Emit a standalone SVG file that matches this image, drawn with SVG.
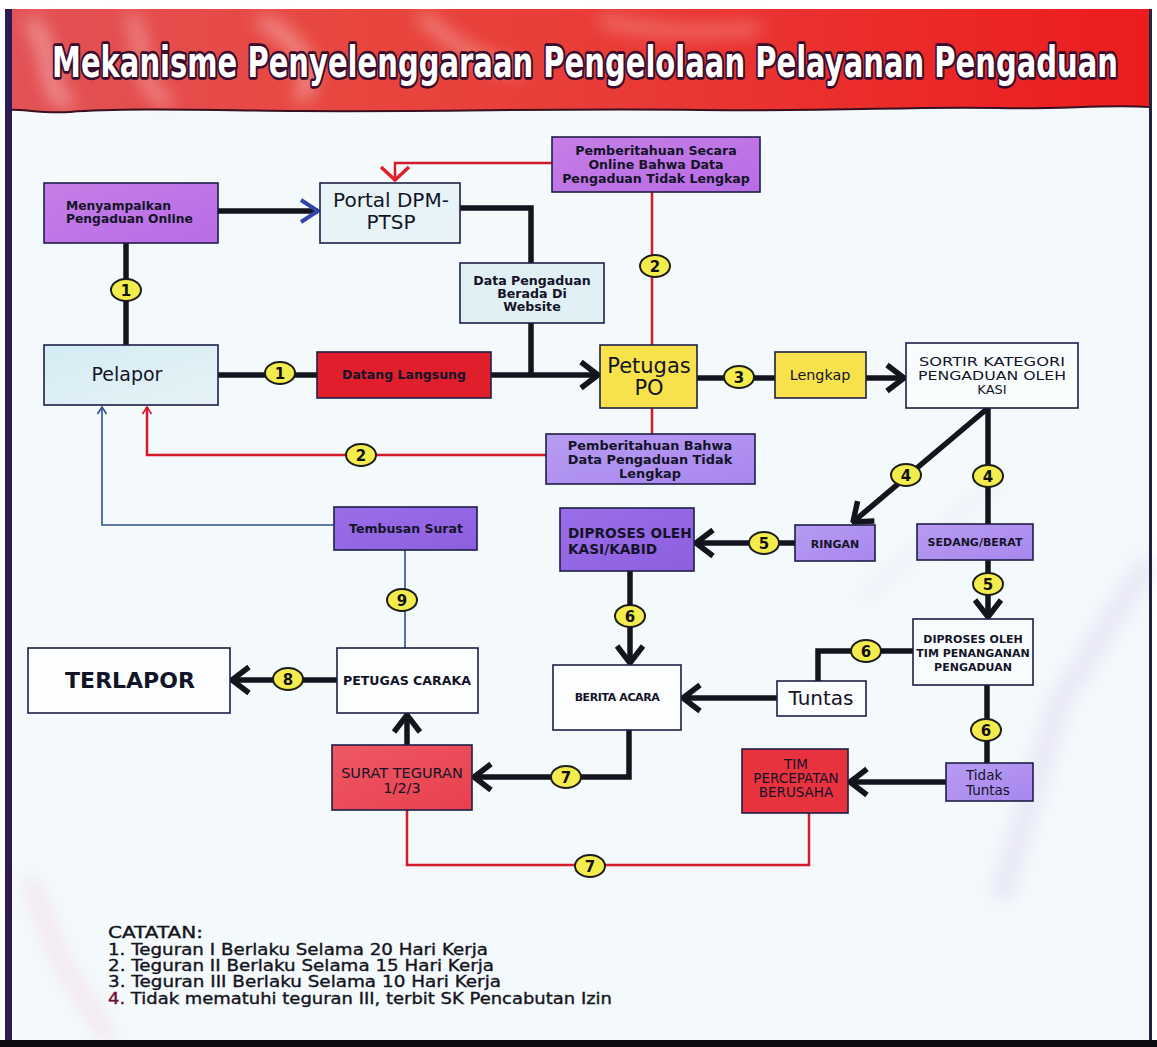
<svg xmlns="http://www.w3.org/2000/svg" width="1157" height="1047" viewBox="0 0 1157 1047">
  <style>
    .box { stroke: #1e1e48; stroke-width: 1.6; }
    .t { font-family: "DejaVu Sans", "Liberation Sans", sans-serif; fill: #141428; text-anchor: middle; }
    .b { font-weight: bold; }
    .l { text-anchor: start; }
    .k { fill: none; stroke: #14141e; stroke-width: 5.5; stroke-linejoin: miter; }
    .r { fill: none; stroke: #d31c2a; stroke-width: 2.5; }
    .bl { fill: none; stroke: #2f4f8f; stroke-width: 1.6; }
    .badge ellipse { fill: #f3ec4c; stroke: #1c1c1c; stroke-width: 2; }
    .badge text { font-family: "DejaVu Sans", "Liberation Sans", sans-serif; font-weight: bold; font-size: 15px; fill: #111; text-anchor: middle; }
    .note { font-family: "DejaVu Sans", "Liberation Sans", sans-serif; font-size: 15.5px; fill: #141420; stroke: #141420; stroke-width: 0.35; }
  </style>
  <defs>
    <marker id="chev" viewBox="-22 -16 24 32" refX="0" refY="0" markerWidth="24" markerHeight="32" markerUnits="userSpaceOnUse" orient="auto">
      <path d="M-17,-13 L0,0 L-17,13" fill="none" stroke="#14141e" stroke-width="5.5"/>
    </marker>
    <marker id="chevBlue" viewBox="-22 -16 24 32" refX="0" refY="0" markerWidth="24" markerHeight="32" markerUnits="userSpaceOnUse" orient="auto">
      <path d="M-17,-11 L0,0 L-17,11" fill="none" stroke="#3444a6" stroke-width="4"/>
    </marker>
    <marker id="chevRed" viewBox="-20 -18 22 36" refX="0" refY="0" markerWidth="22" markerHeight="36" markerUnits="userSpaceOnUse" orient="auto">
      <path d="M-13,-14 L0,0 L-13,14" fill="none" stroke="#e0202c" stroke-width="3.5"/>
    </marker>
    <marker id="tipRed" viewBox="-10 -6 12 12" refX="0" refY="0" markerWidth="12" markerHeight="12" markerUnits="userSpaceOnUse" orient="auto">
      <path d="M-7,-4.5 L0,0 L-7,4.5" fill="none" stroke="#d31c2a" stroke-width="1.6"/>
    </marker>
    <marker id="tipBlue" viewBox="-10 -6 12 12" refX="0" refY="0" markerWidth="12" markerHeight="12" markerUnits="userSpaceOnUse" orient="auto">
      <path d="M-7,-4.5 L0,0 L-7,4.5" fill="none" stroke="#2f4f8f" stroke-width="1.6"/>
    </marker>
    <linearGradient id="banner" x1="0" y1="0" x2="1" y2="0">
      <stop offset="0" stop-color="#e25256"/>
      <stop offset="0.3" stop-color="#e8463f"/>
      <stop offset="0.55" stop-color="#e93a36"/>
      <stop offset="1" stop-color="#ec1c1e"/>
    </linearGradient>
    <linearGradient id="purple" x1="0" y1="0" x2="1" y2="1">
      <stop offset="0" stop-color="#c57ee6"/>
      <stop offset="1" stop-color="#b86ce6"/>
    </linearGradient>
    <linearGradient id="violet" x1="0" y1="0" x2="1" y2="1">
      <stop offset="0" stop-color="#9a6ee8"/>
      <stop offset="1" stop-color="#8d5fe0"/>
    </linearGradient>
    <linearGradient id="lav" x1="0" y1="0" x2="1" y2="1">
      <stop offset="0" stop-color="#b79bf2"/>
      <stop offset="1" stop-color="#a887ee"/>
    </linearGradient>
    <linearGradient id="sky" x1="0" y1="0" x2="1" y2="1">
      <stop offset="0" stop-color="#d4ecf3"/>
      <stop offset="1" stop-color="#e6f3f7"/>
    </linearGradient>
    <linearGradient id="rose" x1="0" y1="0" x2="1" y2="1">
      <stop offset="0" stop-color="#ee5864"/>
      <stop offset="1" stop-color="#e8404e"/>
    </linearGradient>
    <filter id="soft" x="-20%" y="-20%" width="140%" height="140%">
      <feGaussianBlur stdDeviation="9"/>
    </filter>
  </defs>

  <!-- sheet -->
  <rect x="0" y="0" width="1157" height="1047" fill="#ffffff"/>
  <rect x="6" y="9" width="1145" height="1032" fill="#f4f9fb"/>

  <!-- soft glare streaks on the sheet -->
  <g filter="url(#soft)" opacity="0.25">
    <path d="M30,880 L60,960 L110,1040" fill="none" stroke="#f0a0c0" stroke-width="14"/>
    <path d="M1150,560 L1060,700 L1000,900" fill="none" stroke="#c8b4ee" stroke-width="22"/>
    <path d="M860,600 L1000,480" fill="none" stroke="#d8cdf0" stroke-width="10"/>
  </g>

  <!-- title banner -->
  <g id="banner-title">
    <path d="M6,9 H1150 V107 C1100,104 1060,110 1000,108 C900,106 850,112 700,110 C560,108 450,112 300,111 C200,110 120,108 70,112 C40,114 20,108 6,110 Z" fill="url(#banner)"/>
    <g filter="url(#soft)" opacity="0.6">
      <path d="M30,20 C60,60 40,90 70,105" fill="none" stroke="#fbe0e0" stroke-width="12"/>
      <path d="M130,15 C150,50 130,80 170,105" fill="none" stroke="#fbd6d6" stroke-width="10"/>
      <path d="M260,20 C300,40 320,70 300,100" fill="none" stroke="#fcdcdc" stroke-width="12"/>
      <path d="M420,15 C450,40 470,60 520,70" fill="none" stroke="#fad0d0" stroke-width="10"/>
      <path d="M600,20 C640,30 700,35 760,28" fill="none" stroke="#f8c8c8" stroke-width="8"/>
    </g>
    <path d="M1150,107 C1100,104 1060,110 1000,108 C900,106 850,112 700,110 C560,108 450,112 300,111 C200,110 120,108 70,112 C40,114 20,108 6,110" fill="none" stroke="#3a1020" stroke-width="2"/>
    <text transform="translate(0,77) scale(1,1.5)" x="52" y="0" textLength="1066" lengthAdjust="spacingAndGlyphs" font-family="DejaVu Sans, Liberation Sans, sans-serif" font-weight="bold" font-size="28" fill="#ffffff" stroke="#3a0c2c" stroke-width="3.5" stroke-linejoin="round" paint-order="stroke">Mekanisme Penyelenggaraan  Pengelolaan Pelayanan Pengaduan</text>
  </g>

  <!-- frame edges -->
  <rect x="5" y="9" width="7" height="1038" fill="#2c1a52"/>
  <rect x="1149" y="9" width="3" height="1032" fill="#22223a"/>
  <rect x="0" y="1040" width="1157" height="7" fill="#0c0c10"/>

  <!-- connectors -->
  <g id="connectors">
    <!-- online submission to portal -->
    <path class="k" d="M218,211 H318" stroke="#1a1a3c" marker-end="url(#chevBlue)"/>
    <path class="k" d="M126,243 V345"/>
    <path class="k" d="M218,375 H317"/>
    <path class="k" d="M491,375 H598" marker-end="url(#chev)"/>
    <path class="k" d="M460,208 H531 V375"/>
    <path class="k" d="M697,378 H775"/>
    <path class="k" d="M866,378 H904" marker-end="url(#chev)"/>
    <path class="k" d="M988,408 L853,522" marker-end="url(#chev)"/>
    <path class="k" d="M988,408 V524"/>
    <path class="k" d="M988,560 V617" marker-end="url(#chev)"/>
    <path class="k" d="M795,543 H696" marker-end="url(#chev)"/>
    <path class="k" d="M630,571 V663" marker-end="url(#chev)"/>
    <path class="k" d="M913,651 H818 V681"/>
    <path class="k" d="M777,698 H683" marker-end="url(#chev)"/>
    <path class="k" d="M987,685 V763"/>
    <path class="k" d="M946,782 H850" marker-end="url(#chev)"/>
    <path class="k" d="M629,730 V777 H474" marker-end="url(#chev)"/>
    <path class="k" d="M407,745 V715" marker-end="url(#chev)"/>
    <path class="k" d="M337,680 H232" marker-end="url(#chev)"/>
    <!-- incomplete-data returns -->
    <path class="r" d="M552,163 H395 V180" stroke-width="3.2" stroke="#e0202c" marker-end="url(#chevRed)"/>
    <path class="r" d="M652,192 V345"/>
    <path class="r" d="M652,408 V434"/>
    <path class="r" d="M546,455 H147 V407" marker-end="url(#tipRed)"/>
    <path class="r" d="M407,810 V865 H809 V813" stroke-width="3" stroke="#c41828"/>
    <!-- copy of the letter -->
    <path class="bl" d="M334,525 H102 V407" marker-end="url(#tipBlue)"/>
    <path class="bl" d="M405,550 V648"/>
  </g>

  <!-- nodes -->
  <g id="node-menyampaikan">
    <rect class="box" x="44" y="183" width="174" height="60" fill="url(#purple)"/>
    <text class="t b l" x="66" y="210" font-size="12.3" fill="#2a1a4a">Menyampaikan</text>
    <text class="t b l" x="66" y="223" font-size="12.3" fill="#2a1a4a">Pengaduan Online</text>
  </g>
  <g id="node-portal">
    <rect class="box" x="320" y="183" width="140" height="60" fill="#e7f3f7"/>
    <text class="t" x="391" y="207" font-size="20">Portal DPM-</text>
    <text class="t" x="391" y="229" font-size="20">PTSP</text>
  </g>
  <g id="node-pemberitahuan-online">
    <rect class="box" x="552" y="137" width="208" height="55" fill="url(#purple)"/>
    <text class="t b" x="656" y="155" font-size="12.6" fill="#24163e">Pemberitahuan Secara</text>
    <text class="t b" x="656" y="169" font-size="12.6" fill="#24163e">Online Bahwa Data</text>
    <text class="t b" x="656" y="183" font-size="12.6" fill="#24163e">Pengaduan Tidak Lengkap</text>
  </g>
  <g id="node-data-website">
    <rect class="box" x="460" y="263" width="144" height="60" fill="#e1f0f5"/>
    <text class="t b" x="532" y="285" font-size="12.6">Data Pengaduan</text>
    <text class="t b" x="532" y="298" font-size="12.6">Berada Di</text>
    <text class="t b" x="532" y="311" font-size="12.6">Website</text>
  </g>
  <g id="node-pelapor">
    <rect class="box" x="44" y="345" width="174" height="60" fill="url(#sky)"/>
    <text class="t" x="127" y="381" font-size="19">Pelapor</text>
  </g>
  <g id="node-datang">
    <rect class="box" x="317" y="352" width="174" height="46" fill="#e01e2c"/>
    <text class="t b" x="404" y="379" font-size="12.5" fill="#9a1424">Datang Langsung</text>
  </g>
  <g id="node-petugas-po">
    <rect class="box" x="600" y="345" width="97" height="63" fill="#f8e24c"/>
    <text class="t" x="649" y="373" font-size="21">Petugas</text>
    <text class="t" x="649" y="395" font-size="21">PO</text>
  </g>
  <g id="node-lengkap">
    <rect class="box" x="775" y="352" width="91" height="46" fill="#f8e24c"/>
    <text class="t" x="820" y="380" font-size="14.3">Lengkap</text>
  </g>
  <g id="node-sortir">
    <rect class="box" x="906" y="343" width="172" height="65" fill="#f9fcfd"/>
    <text class="t" x="992" y="366" font-size="13" textLength="146" lengthAdjust="spacingAndGlyphs">SORTIR KATEGORI</text>
    <text class="t" x="992" y="380" font-size="13" textLength="148" lengthAdjust="spacingAndGlyphs">PENGADUAN OLEH</text>
    <text class="t" x="992" y="394" font-size="13">KASI</text>
  </g>
  <g id="node-pemberitahuan-bahwa">
    <rect class="box" x="546" y="434" width="209" height="50" fill="url(#lav)"/>
    <text class="t b" x="650" y="450" font-size="12.9" fill="#20163c">Pemberitahuan Bahwa</text>
    <text class="t b" x="650" y="464" font-size="12.9" fill="#20163c">Data Pengaduan Tidak</text>
    <text class="t b" x="650" y="478" font-size="12.9" fill="#20163c">Lengkap</text>
  </g>
  <g id="node-tembusan">
    <rect class="box" x="334" y="507" width="143" height="43" fill="url(#violet)"/>
    <text class="t b" x="406" y="533" font-size="12.5" fill="#1c1236">Tembusan Surat</text>
  </g>
  <g id="node-kasi-kabid">
    <rect class="box" x="560" y="508" width="134" height="63" fill="url(#violet)"/>
    <text class="t b l" x="568" y="538" font-size="13.7" fill="#281a6e">DIPROSES OLEH</text>
    <text class="t b l" x="568" y="554" font-size="13.7" fill="#281a6e">KASI/KABID</text>
  </g>
  <g id="node-ringan">
    <rect class="box" x="795" y="525" width="80" height="36" fill="url(#lav)"/>
    <text class="t b" x="835" y="548" font-size="11" fill="#1c1440">RINGAN</text>
  </g>
  <g id="node-sedang-berat">
    <rect class="box" x="917" y="524" width="116" height="36" fill="url(#lav)"/>
    <text class="t b" x="975" y="546" font-size="11" fill="#1c1440">SEDANG/BERAT</text>
  </g>
  <g id="node-tim-penanganan">
    <rect class="box" x="913" y="619" width="120" height="66" fill="#f9fcfd"/>
    <text class="t b" x="973" y="643" font-size="11">DIPROSES OLEH</text>
    <text class="t b" x="973" y="657" font-size="11">TIM PENANGANAN</text>
    <text class="t b" x="973" y="671" font-size="11">PENGADUAN</text>
  </g>
  <g id="node-terlapor">
    <rect class="box" x="28" y="648" width="202" height="65" fill="#fbfdfe"/>
    <text class="t b" x="130" y="688" font-size="22">TERLAPOR</text>
  </g>
  <g id="node-petugas-caraka">
    <rect class="box" x="337" y="648" width="141" height="65" fill="#fbfdfe"/>
    <text class="t b" x="407" y="685" font-size="12.6">PETUGAS CARAKA</text>
  </g>
  <g id="node-berita-acara">
    <rect class="box" x="553" y="665" width="128" height="65" fill="#fbfdfe"/>
    <text class="t b" x="617" y="701" font-size="11" letter-spacing="-0.4">BERITA ACARA</text>
  </g>
  <g id="node-tuntas">
    <rect class="box" x="777" y="681" width="89" height="35" fill="#fbfdfe"/>
    <text class="t" x="821" y="705" font-size="20">Tuntas</text>
  </g>
  <g id="node-surat-teguran">
    <rect class="box" x="332" y="745" width="140" height="65" fill="url(#rose)"/>
    <text class="t" x="402" y="778" font-size="14.5" fill="#3a0a14">SURAT TEGURAN</text>
    <text class="t" x="402" y="793" font-size="14.5" fill="#3a0a14">1/2/3</text>
  </g>
  <g id="node-tim-percepatan">
    <rect class="box" x="742" y="749" width="106" height="64" fill="#e8323e"/>
    <text class="t" x="796" y="769" font-size="13.5" fill="#3a0a14">TIM</text>
    <text class="t" x="796" y="783" font-size="13.5" fill="#3a0a14">PERCEPATAN</text>
    <text class="t" x="796" y="797" font-size="13.5" fill="#3a0a14">BERUSAHA</text>
  </g>
  <g id="node-tidak-tuntas">
    <rect class="box" x="946" y="763" width="87" height="38" fill="url(#lav)"/>
    <text class="t l" x="966" y="780" font-size="13.5" fill="#1c1440">Tidak</text>
    <text class="t l" x="966" y="795" font-size="13.5" fill="#1c1440">Tuntas</text>
  </g>

  <!-- step numbers -->
  <g id="step-badges">
    <g class="badge"><ellipse cx="126" cy="290" rx="15" ry="11"/><text x="126" y="296">1</text></g>
    <g class="badge"><ellipse cx="280" cy="373" rx="15" ry="11"/><text x="280" y="379">1</text></g>
    <g class="badge"><ellipse cx="655" cy="266" rx="15" ry="11"/><text x="655" y="272">2</text></g>
    <g class="badge"><ellipse cx="739" cy="377" rx="15" ry="11"/><text x="739" y="383">3</text></g>
    <g class="badge"><ellipse cx="361" cy="455" rx="15" ry="11"/><text x="361" y="461">2</text></g>
    <g class="badge"><ellipse cx="906" cy="475" rx="15" ry="11"/><text x="906" y="481">4</text></g>
    <g class="badge"><ellipse cx="988" cy="476" rx="15" ry="11"/><text x="988" y="482">4</text></g>
    <g class="badge"><ellipse cx="764" cy="543" rx="15" ry="11"/><text x="764" y="549">5</text></g>
    <g class="badge"><ellipse cx="988" cy="584" rx="15" ry="11"/><text x="988" y="590">5</text></g>
    <g class="badge"><ellipse cx="630" cy="616" rx="15" ry="11"/><text x="630" y="622">6</text></g>
    <g class="badge"><ellipse cx="866" cy="651" rx="15" ry="11"/><text x="866" y="657">6</text></g>
    <g class="badge"><ellipse cx="986" cy="730" rx="15" ry="11"/><text x="986" y="736">6</text></g>
    <g class="badge"><ellipse cx="402" cy="600" rx="15" ry="11"/><text x="402" y="606">9</text></g>
    <g class="badge"><ellipse cx="288" cy="679" rx="15" ry="11"/><text x="288" y="685">8</text></g>
    <g class="badge"><ellipse cx="566" cy="777" rx="15" ry="11"/><text x="566" y="783">7</text></g>
    <g class="badge"><ellipse cx="590" cy="866" rx="15" ry="11"/><text x="590" y="872">7</text></g>
  </g>

  <!-- notes -->
  <g id="notes">
    <text class="note" x="108" y="938" textLength="95" lengthAdjust="spacingAndGlyphs">CATATAN:</text>
    <text class="note" x="108" y="955" textLength="380" lengthAdjust="spacingAndGlyphs">1. Teguran I Berlaku Selama 20 Hari Kerja</text>
    <text class="note" x="108" y="971" textLength="386" lengthAdjust="spacingAndGlyphs">2. Teguran II Berlaku Selama 15 Hari Kerja</text>
    <text class="note" x="108" y="987" textLength="393" lengthAdjust="spacingAndGlyphs">3. Teguran III Berlaku Selama 10 Hari Kerja</text>
    <text class="note" x="108" y="1004" textLength="504" lengthAdjust="spacingAndGlyphs"><tspan fill="#6a1038" stroke="#6a1038">4.</tspan> Tidak mematuhi teguran III, terbit SK Pencabutan Izin</text>
  </g>
</svg>
